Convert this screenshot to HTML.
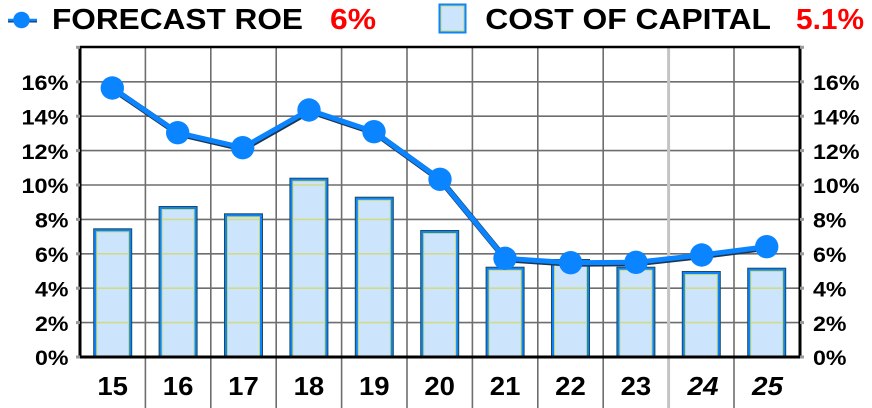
<!DOCTYPE html>
<html>
<head>
<meta charset="utf-8">
<style>
html,body{margin:0;padding:0;background:#fff;}
svg{display:block;}
text{font-family:"Liberation Sans",Arial,sans-serif;font-weight:bold;}
</style>
</head>
<body>
<svg width="872" height="408" viewBox="0 0 872 408" xmlns="http://www.w3.org/2000/svg">
<rect x="0" y="0" width="872" height="408" fill="#fff"/>

<!-- Legend -->
<line x1="8" y1="21" x2="37" y2="21" stroke="#1a3a5a" stroke-width="3"/>
<line x1="8" y1="20" x2="37" y2="20" stroke="#0a84ff" stroke-width="2.5"/>
<circle cx="21.5" cy="20" r="8.3" fill="#0a84ff"/>
<text x="52" y="29" font-size="29" textLength="251" lengthAdjust="spacingAndGlyphs" fill="#000">FORECAST ROE</text>
<text x="330" y="29" font-size="29" textLength="46" lengthAdjust="spacingAndGlyphs" fill="#ff0000">6%</text>

<rect x="438.5" y="3.5" width="28" height="30" fill="#0a84ff"/>
<rect x="440.5" y="5.5" width="24" height="26" fill="#c8d870"/>
<rect x="441.5" y="6.5" width="22" height="24" fill="#cce4fc"/>
<text x="485.3" y="29" font-size="29" textLength="285.7" lengthAdjust="spacingAndGlyphs" fill="#000">COST OF CAPITAL</text>
<text x="796" y="29" font-size="29" textLength="68" lengthAdjust="spacingAndGlyphs" fill="#ff0000">5.1%</text>

<!-- horizontal gridlines -->
<g stroke="#6e6e6e" stroke-width="1.6">
<line x1="80" y1="81.8" x2="800" y2="81.8"/>
<line x1="80" y1="116.2" x2="800" y2="116.2"/>
<line x1="80" y1="150.6" x2="800" y2="150.6"/>
<line x1="80" y1="185" x2="800" y2="185"/>
<line x1="80" y1="219.4" x2="800" y2="219.4"/>
<line x1="80" y1="253.8" x2="800" y2="253.8"/>
<line x1="80" y1="288.2" x2="800" y2="288.2"/>
<line x1="80" y1="322.6" x2="800" y2="322.6"/>
</g>

<!-- vertical gridlines -->
<g stroke="#6e6e6e" stroke-width="1.6">
<line x1="145.4" y1="47" x2="145.4" y2="408"/>
<line x1="210.8" y1="47" x2="210.8" y2="408"/>
<line x1="276.2" y1="47" x2="276.2" y2="408"/>
<line x1="341.6" y1="47" x2="341.6" y2="408"/>
<line x1="407" y1="47" x2="407" y2="408"/>
<line x1="472.4" y1="47" x2="472.4" y2="408"/>
<line x1="537.8" y1="47" x2="537.8" y2="408"/>
<line x1="603.2" y1="47" x2="603.2" y2="408"/>
<line x1="734" y1="47" x2="734" y2="408"/>
</g>
<line x1="668.6" y1="47" x2="668.6" y2="408" stroke="#c4c4c4" stroke-width="3"/>

<!-- Bars -->
<g id="bars">
<!-- each bar: outer dark, blue border, yellow inner, fill -->
<g>
<rect x="93.2" y="228.3" width="39" height="128.7" fill="#1f4a5a"/>
<rect x="94.2" y="229.3" width="37" height="127.7" fill="#0a84ff"/>
<rect x="96.2" y="231.3" width="33" height="125.7" fill="#c8d870"/>
<rect x="97.2" y="232.3" width="31" height="124.7" fill="#cce4fc"/>
</g>
<g>
<rect x="158.6" y="206" width="39" height="151" fill="#1f4a5a"/>
<rect x="159.6" y="207" width="37" height="150" fill="#0a84ff"/>
<rect x="161.6" y="209" width="33" height="148" fill="#c8d870"/>
<rect x="162.6" y="210" width="31" height="147" fill="#cce4fc"/>
</g>
<g>
<rect x="224" y="213.3" width="39" height="143.7" fill="#1f4a5a"/>
<rect x="225" y="214.3" width="37" height="142.7" fill="#0a84ff"/>
<rect x="227" y="216.3" width="33" height="140.7" fill="#c8d870"/>
<rect x="228" y="217.3" width="31" height="139.7" fill="#cce4fc"/>
</g>
<g>
<rect x="289.4" y="177.7" width="39" height="179.3" fill="#1f4a5a"/>
<rect x="290.4" y="178.7" width="37" height="178.3" fill="#0a84ff"/>
<rect x="292.4" y="180.7" width="33" height="176.3" fill="#c8d870"/>
<rect x="293.4" y="181.7" width="31" height="175.3" fill="#cce4fc"/>
</g>
<g>
<rect x="354.8" y="196.7" width="39" height="160.3" fill="#1f4a5a"/>
<rect x="355.8" y="197.7" width="37" height="159.3" fill="#0a84ff"/>
<rect x="357.8" y="199.7" width="33" height="157.3" fill="#c8d870"/>
<rect x="358.8" y="200.7" width="31" height="156.3" fill="#cce4fc"/>
</g>
<g>
<rect x="420.2" y="230" width="39" height="127" fill="#1f4a5a"/>
<rect x="421.2" y="231" width="37" height="126" fill="#0a84ff"/>
<rect x="423.2" y="233" width="33" height="124" fill="#c8d870"/>
<rect x="424.2" y="234" width="31" height="123" fill="#cce4fc"/>
</g>
<g>
<rect x="485.6" y="266.7" width="39" height="90.3" fill="#1f4a5a"/>
<rect x="486.6" y="267.7" width="37" height="89.3" fill="#0a84ff"/>
<rect x="488.6" y="269.7" width="33" height="87.3" fill="#c8d870"/>
<rect x="489.6" y="270.7" width="31" height="86.3" fill="#cce4fc"/>
</g>
<g>
<rect x="551" y="259" width="39" height="98" fill="#1f4a5a"/>
<rect x="552" y="260" width="37" height="97" fill="#0a84ff"/>
<rect x="554" y="262" width="33" height="95" fill="#c8d870"/>
<rect x="555" y="263" width="31" height="94" fill="#cce4fc"/>
</g>
<g>
<rect x="616.4" y="266.7" width="39" height="90.3" fill="#1f4a5a"/>
<rect x="617.4" y="267.7" width="37" height="89.3" fill="#0a84ff"/>
<rect x="619.4" y="269.7" width="33" height="87.3" fill="#c8d870"/>
<rect x="620.4" y="270.7" width="31" height="86.3" fill="#cce4fc"/>
</g>
<g>
<rect x="681.8" y="271" width="39" height="86" fill="#1f4a5a"/>
<rect x="682.8" y="272" width="37" height="85" fill="#0a84ff"/>
<rect x="684.8" y="274" width="33" height="83" fill="#c8d870"/>
<rect x="685.8" y="275" width="31" height="82" fill="#cce4fc"/>
</g>
<g>
<rect x="747.2" y="267.7" width="39" height="89.3" fill="#1f4a5a"/>
<rect x="748.2" y="268.7" width="37" height="88.3" fill="#0a84ff"/>
<rect x="750.2" y="270.7" width="33" height="86.3" fill="#c8d870"/>
<rect x="751.2" y="271.7" width="31" height="85.3" fill="#cce4fc"/>
</g>
</g>

<!-- gridlines over bars (yellowish) -->
<g stroke="#d2da8a" stroke-width="1.6">
<line x1="97" y1="253.8" x2="128.4" y2="253.8"/><line x1="97" y1="288.2" x2="128.4" y2="288.2"/><line x1="97" y1="322.6" x2="128.4" y2="322.6"/>
<line x1="162.4" y1="219.4" x2="193.8" y2="219.4"/><line x1="162.4" y1="253.8" x2="193.8" y2="253.8"/><line x1="162.4" y1="288.2" x2="193.8" y2="288.2"/><line x1="162.4" y1="322.6" x2="193.8" y2="322.6"/>
<line x1="227.8" y1="219.4" x2="259.2" y2="219.4"/><line x1="227.8" y1="253.8" x2="259.2" y2="253.8"/><line x1="227.8" y1="288.2" x2="259.2" y2="288.2"/><line x1="227.8" y1="322.6" x2="259.2" y2="322.6"/>
<line x1="293.2" y1="185" x2="324.6" y2="185"/><line x1="293.2" y1="219.4" x2="324.6" y2="219.4"/><line x1="293.2" y1="253.8" x2="324.6" y2="253.8"/><line x1="293.2" y1="288.2" x2="324.6" y2="288.2"/><line x1="293.2" y1="322.6" x2="324.6" y2="322.6"/>
<line x1="358.6" y1="219.4" x2="390" y2="219.4"/><line x1="358.6" y1="253.8" x2="390" y2="253.8"/><line x1="358.6" y1="288.2" x2="390" y2="288.2"/><line x1="358.6" y1="322.6" x2="390" y2="322.6"/>
<line x1="424" y1="253.8" x2="455.4" y2="253.8"/><line x1="424" y1="288.2" x2="455.4" y2="288.2"/><line x1="424" y1="322.6" x2="455.4" y2="322.6"/>
<line x1="489.4" y1="288.2" x2="520.8" y2="288.2"/><line x1="489.4" y1="322.6" x2="520.8" y2="322.6"/>
<line x1="554.8" y1="288.2" x2="586.2" y2="288.2"/><line x1="554.8" y1="322.6" x2="586.2" y2="322.6"/>
<line x1="620.2" y1="288.2" x2="651.6" y2="288.2"/><line x1="620.2" y1="322.6" x2="651.6" y2="322.6"/>
<line x1="685.6" y1="288.2" x2="717" y2="288.2"/><line x1="685.6" y1="322.6" x2="717" y2="322.6"/>
<line x1="751" y1="288.2" x2="782.4" y2="288.2"/><line x1="751" y1="322.6" x2="782.4" y2="322.6"/>
</g>

<!-- Axes -->
<line x1="80" y1="47" x2="801" y2="47" stroke="#000" stroke-width="2.5"/>
<line x1="80" y1="46" x2="80" y2="358.5" stroke="#000" stroke-width="3"/>
<line x1="800" y1="46" x2="800" y2="358.5" stroke="#000" stroke-width="3"/>
<line x1="78.5" y1="357" x2="801.5" y2="357" stroke="#000" stroke-width="3"/>

<!-- tick stubs -->
<g fill="#9a9a9a">
<rect x="76" y="45.8" width="4" height="3"/><rect x="76" y="80.3" width="4" height="3"/><rect x="76" y="114.7" width="4" height="3"/><rect x="76" y="149.1" width="4" height="3"/><rect x="76" y="183.5" width="4" height="3"/><rect x="76" y="217.9" width="4" height="3"/><rect x="76" y="252.3" width="4" height="3"/><rect x="76" y="286.7" width="4" height="3"/><rect x="76" y="321.1" width="4" height="3"/><rect x="76" y="355.5" width="4" height="3"/>
<rect x="800" y="45.8" width="4" height="3"/><rect x="800" y="80.3" width="4" height="3"/><rect x="800" y="114.7" width="4" height="3"/><rect x="800" y="149.1" width="4" height="3"/><rect x="800" y="183.5" width="4" height="3"/><rect x="800" y="217.9" width="4" height="3"/><rect x="800" y="252.3" width="4" height="3"/><rect x="800" y="286.7" width="4" height="3"/><rect x="800" y="321.1" width="4" height="3"/><rect x="800" y="355.5" width="4" height="3"/>
</g>

<!-- ROE line -->
<polyline points="112.3,88 177.7,132.7 242.7,147.7 309,110 374,131.7 440,179.3 505,258.3 570.7,262.7 636,262.3 701.7,255 766.7,246.7" fill="none" stroke="#1c3550" stroke-width="6" stroke-linejoin="round" transform="translate(0.8,1)"/>
<polyline points="112.3,88 177.7,132.7 242.7,147.7 309,110 374,131.7 440,179.3 505,258.3 570.7,262.7 636,262.3 701.7,255 766.7,246.7" fill="none" stroke="#0a84ff" stroke-width="5" stroke-linejoin="round"/>
<g fill="#0a84ff">
<circle cx="112.3" cy="88" r="11.7"/>
<circle cx="177.7" cy="132.7" r="11.7"/>
<circle cx="242.7" cy="147.7" r="11.7"/>
<circle cx="309" cy="110" r="11.7"/>
<circle cx="374" cy="131.7" r="11.7"/>
<circle cx="440" cy="179.3" r="11.7"/>
<circle cx="505" cy="258.3" r="11.7"/>
<circle cx="570.7" cy="262.7" r="11.7"/>
<circle cx="636" cy="262.3" r="11.7"/>
<circle cx="701.7" cy="255" r="11.7"/>
<circle cx="766.7" cy="246.7" r="11.7"/>
</g>

<!-- Left Y labels -->
<g font-size="21" fill="#000" text-anchor="end">
<text x="68.5" y="90" textLength="47" lengthAdjust="spacingAndGlyphs">16%</text>
<text x="68.5" y="124.4" textLength="47" lengthAdjust="spacingAndGlyphs">14%</text>
<text x="68.5" y="158.8" textLength="47" lengthAdjust="spacingAndGlyphs">12%</text>
<text x="68.5" y="193.2" textLength="47" lengthAdjust="spacingAndGlyphs">10%</text>
<text x="68.5" y="227.6" textLength="33.5" lengthAdjust="spacingAndGlyphs">8%</text>
<text x="68.5" y="262" textLength="33.5" lengthAdjust="spacingAndGlyphs">6%</text>
<text x="68.5" y="296.4" textLength="33.5" lengthAdjust="spacingAndGlyphs">4%</text>
<text x="68.5" y="330.8" textLength="33.5" lengthAdjust="spacingAndGlyphs">2%</text>
<text x="68.5" y="365.2" textLength="33.5" lengthAdjust="spacingAndGlyphs">0%</text>
</g>

<!-- Right Y labels -->
<g font-size="21" fill="#000">
<text x="813" y="90" textLength="46.5" lengthAdjust="spacingAndGlyphs">16%</text>
<text x="813" y="124.4" textLength="46.5" lengthAdjust="spacingAndGlyphs">14%</text>
<text x="813" y="158.8" textLength="46.5" lengthAdjust="spacingAndGlyphs">12%</text>
<text x="813" y="193.2" textLength="46.5" lengthAdjust="spacingAndGlyphs">10%</text>
<text x="813" y="227.6" textLength="33.5" lengthAdjust="spacingAndGlyphs">8%</text>
<text x="813" y="262" textLength="33.5" lengthAdjust="spacingAndGlyphs">6%</text>
<text x="813" y="296.4" textLength="33.5" lengthAdjust="spacingAndGlyphs">4%</text>
<text x="813" y="330.8" textLength="33.5" lengthAdjust="spacingAndGlyphs">2%</text>
<text x="813" y="365.2" textLength="33.5" lengthAdjust="spacingAndGlyphs">0%</text>
</g>

<!-- X labels -->
<g font-size="25.5" fill="#000" text-anchor="middle">
<text x="112.7" y="395" textLength="30.6" lengthAdjust="spacingAndGlyphs">15</text>
<text x="178.1" y="395" textLength="30.6" lengthAdjust="spacingAndGlyphs">16</text>
<text x="243.5" y="395" textLength="30.6" lengthAdjust="spacingAndGlyphs">17</text>
<text x="308.9" y="395" textLength="30.6" lengthAdjust="spacingAndGlyphs">18</text>
<text x="374.3" y="395" textLength="30.6" lengthAdjust="spacingAndGlyphs">19</text>
<text x="439.7" y="395" textLength="30.6" lengthAdjust="spacingAndGlyphs">20</text>
<text x="505.1" y="395" textLength="30.6" lengthAdjust="spacingAndGlyphs">21</text>
<text x="570.5" y="395" textLength="30.6" lengthAdjust="spacingAndGlyphs">22</text>
<text x="635.9" y="395" textLength="30.6" lengthAdjust="spacingAndGlyphs">23</text>
<text x="703" y="395" textLength="31" lengthAdjust="spacingAndGlyphs" font-style="italic">24</text>
<text x="767.5" y="395" textLength="31" lengthAdjust="spacingAndGlyphs" font-style="italic">25</text>
</g>
</svg>
</body>
</html>
